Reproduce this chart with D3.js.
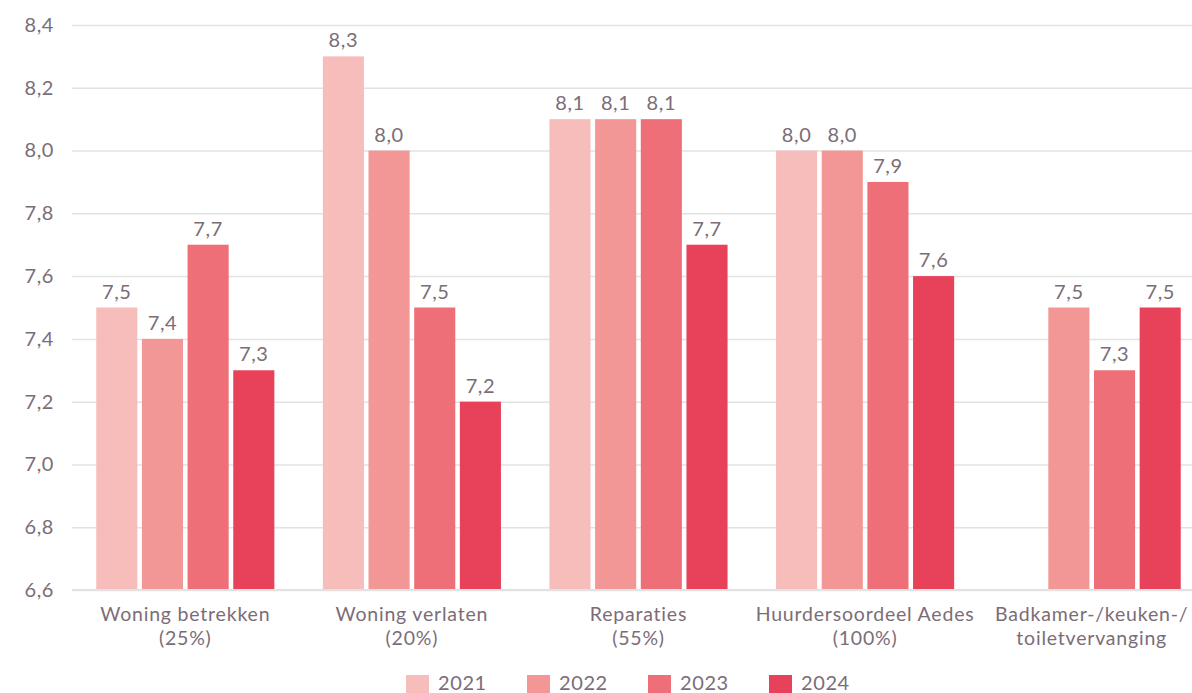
<!DOCTYPE html>
<html>
<head>
<meta charset="utf-8">
<script src="https://cdn.jsdelivr.net/npm/d3@7"></script>
<style>
  html, body { margin: 0; padding: 0; background: #fff; }
  svg text { font-family: Lato, "Open Sans", sans-serif; fill: #7b6d77; }
</style>
</head>
<body>
<svg id="chart" width="1192" height="693"></svg>
<script>
// Categories (two-line labels) and yearly scores
const categories = [
  ["Woning betrekken", "(25%)"],
  ["Woning verlaten", "(20%)"],
  ["Reparaties", "(55%)"],
  ["Huurdersoordeel Aedes", "(100%)"],
  ["Badkamer-/keuken-/", "toiletvervanging"]
];
const years = ["2021", "2022", "2023", "2024"];
const values2021 = [7.5, 8.3, 8.1, 8.0, null];
const values2022 = [7.4, 8.0, 8.1, 8.0, 7.5];
const values2023 = [7.7, 7.5, 8.1, 7.9, 7.3];
const values2024 = [7.3, 7.2, 7.7, 7.6, 7.5];
const yTicks = [6.6, 6.8, 7.0, 7.2, 7.4, 7.6, 7.8, 8.0, 8.2, 8.4];
const colors = ["#f7bdbb", "#f29796", "#ee6f78", "#e8415a"];

const series = [values2021, values2022, values2023, values2024];
const fmt = v => d3.format(".1f")(v).replace(".", ",");

const svg = d3.select("#chart");
const plotLeft = 72, plotRight = 1205, plotTop = 25, plotBottom = 590;

const x0 = d3.scaleBand().domain(d3.range(categories.length)).range([plotLeft, plotRight]).paddingInner(0.214).paddingOuter(0.107);
const x1 = d3.scaleBand().domain(d3.range(years.length)).range([0, x0.bandwidth()]).paddingInner(0.1);
const y = d3.scaleLinear().domain([6.6, 8.4]).range([plotBottom, plotTop]);

// Gridlines and y labels
const yAxis = d3.axisLeft(y).tickValues(yTicks).tickSize(-(plotRight - plotLeft)).tickFormat(fmt).tickPadding(18);
const gy = svg.append("g").attr("transform", `translate(${plotLeft},0)`).call(yAxis);
gy.select(".domain").remove();
gy.selectAll(".tick line").attr("stroke", "#e2e2e2").attr("stroke-width", 1.5);
gy.selectAll(".tick text").attr("font-size", 20).attr("letter-spacing", 0.6).style("fill", "#7b6d77");

// Bars
const groups = svg.append("g").selectAll("g").data(categories).join("g")
  .attr("transform", (d, i) => `translate(${x0(i)},0)`);

groups.each(function(c, ci) {
  const g = d3.select(this);
  const data = series.map((s, si) => ({ si, v: s[ci] })).filter(d => d.v != null);
  g.selectAll("rect").data(data).join("rect")
    .attr("x", d => x1(d.si))
    .attr("width", x1.bandwidth())
    .attr("y", d => y(d.v))
    .attr("height", d => y(6.6) - y(d.v))
    .attr("fill", d => colors[d.si]);
  g.selectAll("text.val").data(data).join("text")
    .attr("class", "val")
    .attr("x", d => x1(d.si) + x1.bandwidth() / 2)
    .attr("y", d => y(d.v) - 9)
    .attr("text-anchor", "middle")
    .attr("font-size", 20)
    .attr("letter-spacing", 0.6)
    .text(d => fmt(d.v));
  g.append("text")
    .attr("x", x0.bandwidth() / 2)
    .attr("text-anchor", "middle")
    .attr("font-size", 19.5)
    .attr("letter-spacing", 0.8)
    .selectAll("tspan").data(c).join("tspan")
    .attr("x", x0.bandwidth() / 2)
    .attr("y", (d, i) => 621 + i * 24)
    .text(d => d);
});

// Axis baseline
svg.append("line").attr("x1", plotLeft).attr("x2", plotRight).attr("y1", plotBottom).attr("y2", plotBottom)
  .attr("stroke", "#e2e2e2").attr("stroke-width", 2);

// Legend
const legend = svg.append("g").selectAll("g").data(years).join("g")
  .attr("transform", (d, i) => `translate(${406 + i * 121},675)`);
legend.append("rect").attr("width", 23).attr("height", 18).attr("fill", (d, i) => colors[i]);
legend.append("text").attr("x", 32).attr("y", 15).attr("font-size", 20).attr("letter-spacing", 0.6).text(d => d);
</script>
</body>
</html>
